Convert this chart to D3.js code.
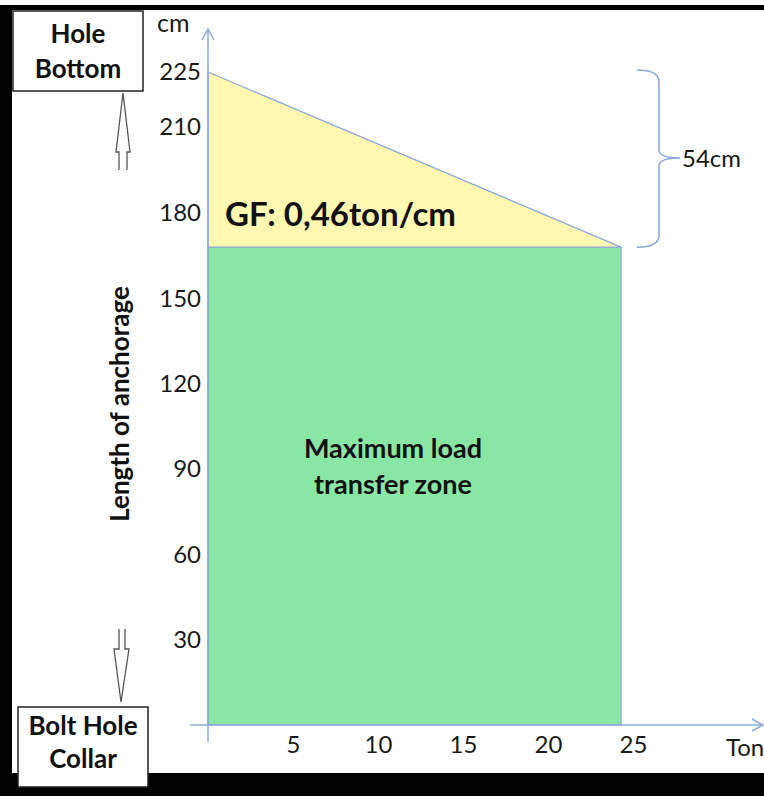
<!DOCTYPE html>
<html><head><meta charset="utf-8">
<script src="https://cdn.jsdelivr.net/npm/d3@7/dist/d3.min.js"></script>
<style>body{margin:0;background:#fff}svg{display:block}</style>
</head><body><svg id="c" width="764" height="796"></svg>
<script>
// ---- data ----
const yTickValues = [30, 60, 90, 120, 150, 180, 210, 225];
const xTickValues = [5, 10, 15, 20, 25];
const holeBottomCm = 225;      // top of triangle
const loadZoneTopCm = 168;     // top of the green zone
const maxLoadTon = 24.3;       // right edge of zone
const gfLabel = "GF: 0,46ton/cm";
const braceLabel = "54cm";
const zoneLabel = ["Maximum load", "transfer zone"];
const yAxisTitle = "Length of anchorage";
const yUnit = "cm", xUnit = "Ton";
const topBoxLines = ["Hole", "Bottom"];
const bottomBoxLines = ["Bolt Hole", "Collar"];

const FONT = "Lato, 'Open Sans', sans-serif";
const AXIS = "#8eaadb";
const TXT = "#1a1a1a";
const svg = d3.select("#c");

// scales (schematic source: hand-spaced upper labels)
const y = d3.scaleLinear().domain([0, 180, 210, 225]).range([725, 213, 127, 72]);
const x = d3.scaleLinear().domain([0, 25]).range([208, 633]);

// frame
svg.append("rect").attr("x",0).attr("y",5).attr("width",764).attr("height",5).attr("fill","#000");
svg.append("rect").attr("x",0).attr("y",5).attr("width",12).attr("height",791).attr("fill","#000");
svg.append("rect").attr("x",0).attr("y",773).attr("width",764).attr("height",23).attr("fill","#000");

// zones
svg.append("rect")
  .attr("x", x(0)).attr("y", y(loadZoneTopCm))
  .attr("width", x(maxLoadTon) - x(0)).attr("height", y(0) - y(loadZoneTopCm))
  .attr("fill", "#8ae6a4").attr("stroke", AXIS).attr("stroke-width", 1.3);
svg.append("path")
  .attr("d", d3.line()([[x(0), y(holeBottomCm)], [x(maxLoadTon), y(loadZoneTopCm)], [x(0), y(loadZoneTopCm)]]) + "Z")
  .attr("fill", "#fff8b0").attr("stroke", AXIS).attr("stroke-width", 1.3);

// axes lines with arrows
svg.append("line").attr("x1", x(0)).attr("x2", x(0)).attr("y1", 742).attr("y2", 29)
  .attr("stroke", AXIS).attr("stroke-width", 1.5);
svg.append("path").attr("d", `M${x(0)-6},${40} L${x(0)},${29} L${x(0)+6},${40}`)
  .attr("fill","none").attr("stroke", AXIS).attr("stroke-width", 1.5);
svg.append("line").attr("x1", 190).attr("x2", 763).attr("y1", y(0)).attr("y2", y(0))
  .attr("stroke", AXIS).attr("stroke-width", 1.5);
svg.append("path").attr("d", `M${752},${y(0)-6} L${763},${y(0)} L${752},${y(0)+6}`)
  .attr("fill","none").attr("stroke", AXIS).attr("stroke-width", 1.5);

// tick labels via d3 axes
const yAx = svg.append("g").attr("transform", `translate(${x(0)-7},0)`)
  .call(d3.axisLeft(y).tickValues(yTickValues).tickSize(0).tickPadding(0));
yAx.select(".domain").remove();
yAx.selectAll("text").attr("font-family", FONT).attr("font-size", 24).attr("fill", TXT);

const xAx = svg.append("g").attr("transform", `translate(0,${y(0)+11})`)
  .call(d3.axisBottom(x).tickValues(xTickValues).tickSize(0).tickPadding(0));
xAx.select(".domain").remove();
xAx.selectAll("text").attr("font-family", FONT).attr("font-size", 24).attr("fill", TXT);

svg.append("text").attr("x", 157).attr("y", 32).text(yUnit)
  .attr("font-family", FONT).attr("font-size", 25).attr("fill", TXT);
svg.append("text").attr("x", 726).attr("y", 756).text(xUnit)
  .attr("font-family", FONT).attr("font-size", 24).attr("fill", TXT);

// y title
svg.append("text").attr("transform", "translate(129,404) rotate(-90)")
  .attr("text-anchor", "middle").text(yAxisTitle)
  .attr("font-family", FONT).attr("font-weight", "bold").attr("font-size", 26).attr("fill", "#111");

// GF label
svg.append("text").attr("x", 225).attr("y", 226).text(gfLabel)
  .attr("font-family", FONT).attr("font-weight", "bold").attr("font-size", 33).attr("fill", "#111");

// zone label
svg.append("text").attr("text-anchor", "middle").attr("font-family", FONT)
  .attr("font-weight", "bold").attr("font-size", 27).attr("fill", "#111")
  .selectAll("tspan").data(zoneLabel).join("tspan")
  .attr("x", 393).attr("y", (d, i) => 458 + i * 36).text(d => d);

// brace
const bt = y(holeBottomCm) - 2, bb = y(loadZoneTopCm), bm = 158;
svg.append("path")
  .attr("d", `M637,${bt} Q659,${bt} 659,${bt+12} L659,${bm-8} Q659,${bm} 680,${bm} Q659,${bm} 659,${bm+8} L659,${bb-12} Q659,${bb} 637,${bb}`)
  .attr("fill","none").attr("stroke", AXIS).attr("stroke-width", 1.6);
svg.append("text").attr("x", 682).attr("y", 167).text(braceLabel)
  .attr("font-family", FONT).attr("font-size", 24).attr("fill", TXT);

// boxes
function box(bx, by, w, h, lines, ty, dy) {
  svg.append("rect").attr("x", bx).attr("y", by).attr("width", w).attr("height", h)
    .attr("fill", "#fff").attr("stroke", "#222").attr("stroke-width", 1.5);
  svg.append("text").attr("text-anchor", "middle").attr("font-family", FONT)
    .attr("font-weight", "bold").attr("font-size", 26).attr("fill", "#111")
    .selectAll("tspan").data(lines).join("tspan")
    .attr("x", bx + w / 2).attr("y", (d, i) => ty + i * dy).text(d => d);
}
box(13, 11, 130, 80, topBoxLines, 43, 35);
box(18, 707, 130, 80, bottomBoxLines, 735, 33);

// hollow arrows
svg.append("path")
  .attr("d", "M119,170 L119,152 L116,152 L123,93 L130,152 L127,152 L127,170")
  .attr("fill","#fff").attr("stroke","#555").attr("stroke-width",1.3);
svg.append("path")
  .attr("d", "M119,629 L119,649 L114,649 L121,702 L129,649 L125,649 L125,629")
  .attr("fill","#fff").attr("stroke","#555").attr("stroke-width",1.3);
</script></body></html>
